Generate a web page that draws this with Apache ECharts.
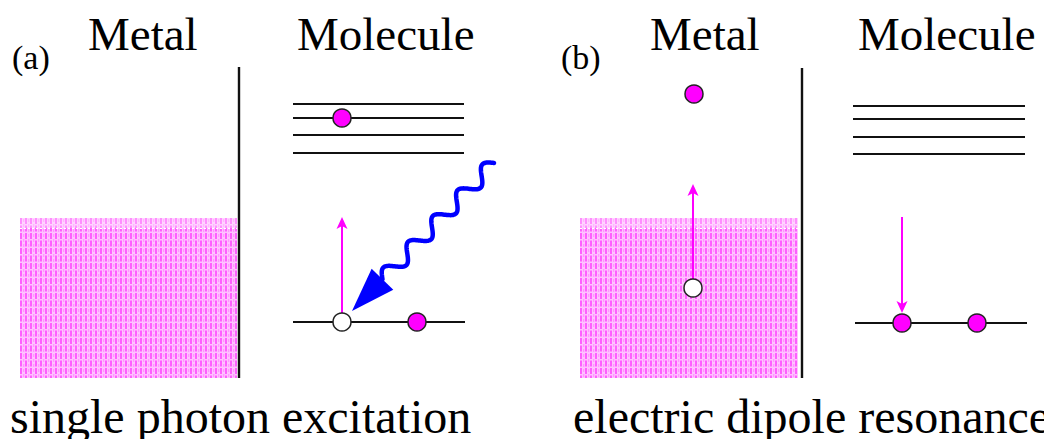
<!DOCTYPE html>
<html>
<head>
<meta charset="utf-8">
<script src="https://cdn.jsdelivr.net/npm/echarts@6/dist/echarts.min.js"></script>
<style>
html, body { margin: 0; padding: 0; background: #fff; }
#main { width: 1044px; height: 439px; }
</style>
</head>
<body>
<div id="main"></div>
<script>
// diagram data, in picture units (x right, y down)
var panelTags = ['(a)', '(b)'];
var tagPos = [[12, 57], [561, 57]];
var headings = ['Metal', 'Molecule', 'Metal', 'Molecule'];
var headingPos = [[88, 34], [297, 34], [650, 34], [858, 34]];
var captions = ['single photon excitation', 'electric dipole resonance'];
var captionPos = [[10, 416], [573, 416]];

// metal conduction band: x0, x1, yTop, yBottom
var metalBands = [[20, 237, 218, 378], [580, 798, 218, 378]];
// metal / molecule interface: x, yTop, yBottom
var dividers = [[239, 67, 378], [802, 68, 378]];
// molecular levels: x0, x1, y
var levels = [
	[293, 464, 104], [293, 464, 118], [293, 464, 135], [293, 464, 153], [293, 465, 322],
	[853, 1025, 106], [853, 1025, 119], [853, 1025, 137], [853, 1025, 154], [855, 1027, 323]
];
var electrons = [[342, 118], [417, 322], [694, 94], [902, 323], [977, 323]];
var holes = [[342, 322], [693, 288]];
// transitions: x0, y0 -> x1, y1 (tip)
var transitions = [[342, 322, 342, 217], [693, 288, 693, 184], [902, 217, 902, 313]];
// incoming photon: start of wave, tip of arrow
var photon = [[494, 163, 352, 311]];

var FONT = '"Liberation Serif", "Times New Roman", serif';

function textSeries(texts, pos, size) {
	return {
		type: 'custom',
		silent: true,
		z: 10,
		clip: false,
		data: pos,
		renderItem: function (params, api) {
			var p = api.coord([api.value(0), api.value(1)]);
			return {
				type: 'text',
				x: p[0],
				y: p[1],
				style: {
					text: texts[params.dataIndex],
					font: size + 'px ' + FONT,
					fill: '#000',
					align: 'left',
					verticalAlign: 'middle'
				}
			};
		}
	};
}

function renderBand(params, api) {
	var p0 = api.coord([api.value(0), api.value(2)]);
	var p1 = api.coord([api.value(1), api.value(3)]);
	var w = p1[0] - p0[0], h = p1[1] - p0[1];
	var children = [{
		type: 'rect',
		shape: { x: p0[0], y: p0[1], width: w, height: h },
		style: { fill: '#ffc2ff' }
	}];
	for (var x = p0[0] + 1; x < p1[0]; x += 5) {
		children.push({
			type: 'line',
			shape: { x1: x, y1: p0[1], x2: x, y2: p1[1] },
			style: { stroke: '#ff55ff', lineWidth: 1.8, lineDash: [6, 1.5] }
		});
		if (x + 2.5 < p1[0]) {
			children.push({
				type: 'line',
				shape: { x1: x + 2.7, y1: p0[1] + 1, x2: x + 2.7, y2: p1[1] },
				style: { stroke: '#ff90ff', lineWidth: 1.1, lineDash: [3, 2] }
			});
		}
	}
	// lighter fringe on top of the band
	children.push({
		type: 'rect',
		shape: { x: p0[0], y: p0[1], width: w, height: 10 },
		style: { fill: 'rgba(255,255,255,0.3)' }
	});
	children.push({
		type: 'line',
		shape: { x1: p0[0], y1: p0[1] + 10.5, x2: p1[0], y2: p0[1] + 10.5 },
		style: { stroke: '#ffffff', lineWidth: 1, lineDash: [2, 2] }
	});
	return { type: 'group', children: children };
}

function renderArrow(params, api) {
	var a = api.coord([api.value(0), api.value(1)]);
	var b = api.coord([api.value(2), api.value(3)]);
	var dx = b[0] - a[0], dy = b[1] - a[1];
	var len = Math.sqrt(dx * dx + dy * dy);
	var ux = dx / len, uy = dy / len;
	var nx = -uy, ny = ux;
	var hl = 12, hw = 5.5, notch = 3;
	var back = [b[0] - ux * hl, b[1] - uy * hl];
	var inner = [b[0] - ux * (hl - notch), b[1] - uy * (hl - notch)];
	return {
		type: 'group',
		children: [{
			type: 'line',
			shape: { x1: a[0], y1: a[1], x2: inner[0], y2: inner[1] },
			style: { stroke: '#ff00ff', lineWidth: 2 }
		}, {
			type: 'polygon',
			shape: { points: [b, [back[0] + nx * hw, back[1] + ny * hw], inner, [back[0] - nx * hw, back[1] - ny * hw]] },
			style: { fill: '#ff00ff' }
		}]
	};
}

function renderPhoton(params, api) {
	var s = api.coord([api.value(0), api.value(1)]);
	var t = api.coord([api.value(2), api.value(3)]);
	var dx = s[0] - t[0], dy = s[1] - t[1];
	var len = Math.sqrt(dx * dx + dy * dy);
	var ux = dx / len, uy = dy / len;
	var nx = uy, ny = -ux;
	var headLen = 44, headW = 15;
	var base = [t[0] + ux * headLen, t[1] + uy * headLen];
	var waveLen = len - headLen, periods = 4.5, amp = 7.5;
	var pts = [];
	for (var i = 0; i <= 200; i++) {
		var f = i / 200;
		var d = headLen + f * waveLen;
		var off = amp * Math.sin(f * periods * 2 * Math.PI);
		pts.push([t[0] + ux * d + nx * off, t[1] + uy * d + ny * off]);
	}
	return {
		type: 'group',
		children: [{
			type: 'polyline',
			shape: { points: pts },
			style: { stroke: '#0000ff', lineWidth: 4.5, fill: null, lineCap: 'round', lineJoin: 'round' }
		}, {
			type: 'polygon',
			shape: { points: [t, [base[0] + nx * headW, base[1] + ny * headW], [base[0] - nx * headW, base[1] - ny * headW]] },
			style: { fill: '#0000ff' }
		}]
	};
}

var segs = [];
levels.forEach(function (l) { segs.push({ coords: [[l[0], l[2]], [l[1], l[2]]] }); });
var walls = dividers.map(function (d) { return { coords: [[d[0], d[1]], [d[0], d[2]]] }; });

var option = {
	animation: false,
	backgroundColor: '#ffffff',
	grid: { left: 0, right: 0, top: 0, bottom: 0 },
	xAxis: { type: 'value', min: 0, max: 1044, show: false },
	yAxis: { type: 'value', min: 0, max: 439, inverse: true, show: false },
	series: [
		{
			type: 'custom',
			silent: true,
			z: 1,
			clip: false,
			data: metalBands,
			renderItem: renderBand
		},
		{
			type: 'lines',
			coordinateSystem: 'cartesian2d',
			silent: true,
			z: 2,
			symbol: 'none',
			lineStyle: { color: '#111', width: 2.4, opacity: 1 },
			data: walls
		},
		{
			type: 'lines',
			coordinateSystem: 'cartesian2d',
			silent: true,
			z: 2,
			symbol: 'none',
			lineStyle: { color: '#111', width: 2.2, opacity: 1 },
			data: segs
		},
		{
			type: 'custom',
			silent: true,
			z: 3,
			clip: false,
			data: transitions,
			renderItem: renderArrow
		},
		{
			type: 'custom',
			silent: true,
			z: 3,
			clip: false,
			data: photon,
			renderItem: renderPhoton
		},
		{
			type: 'scatter',
			silent: true,
			z: 5,
			symbol: 'circle',
			symbolSize: 18,
			itemStyle: { color: '#ff00ff', borderColor: '#222', borderWidth: 1.5, opacity: 1 },
			data: electrons
		},
		{
			type: 'scatter',
			silent: true,
			z: 5,
			symbol: 'circle',
			symbolSize: 18,
			itemStyle: { color: '#ffffff', borderColor: '#222', borderWidth: 1.5, opacity: 1 },
			data: holes
		},
		textSeries(panelTags, tagPos, 34),
		textSeries(headings, headingPos, 47),
		textSeries(captions, captionPos, 48)
	]
};

var myChart = echarts.init(document.getElementById('main'), null, { renderer: 'svg' });
myChart.setOption(option);
</script>
</body>
</html>
